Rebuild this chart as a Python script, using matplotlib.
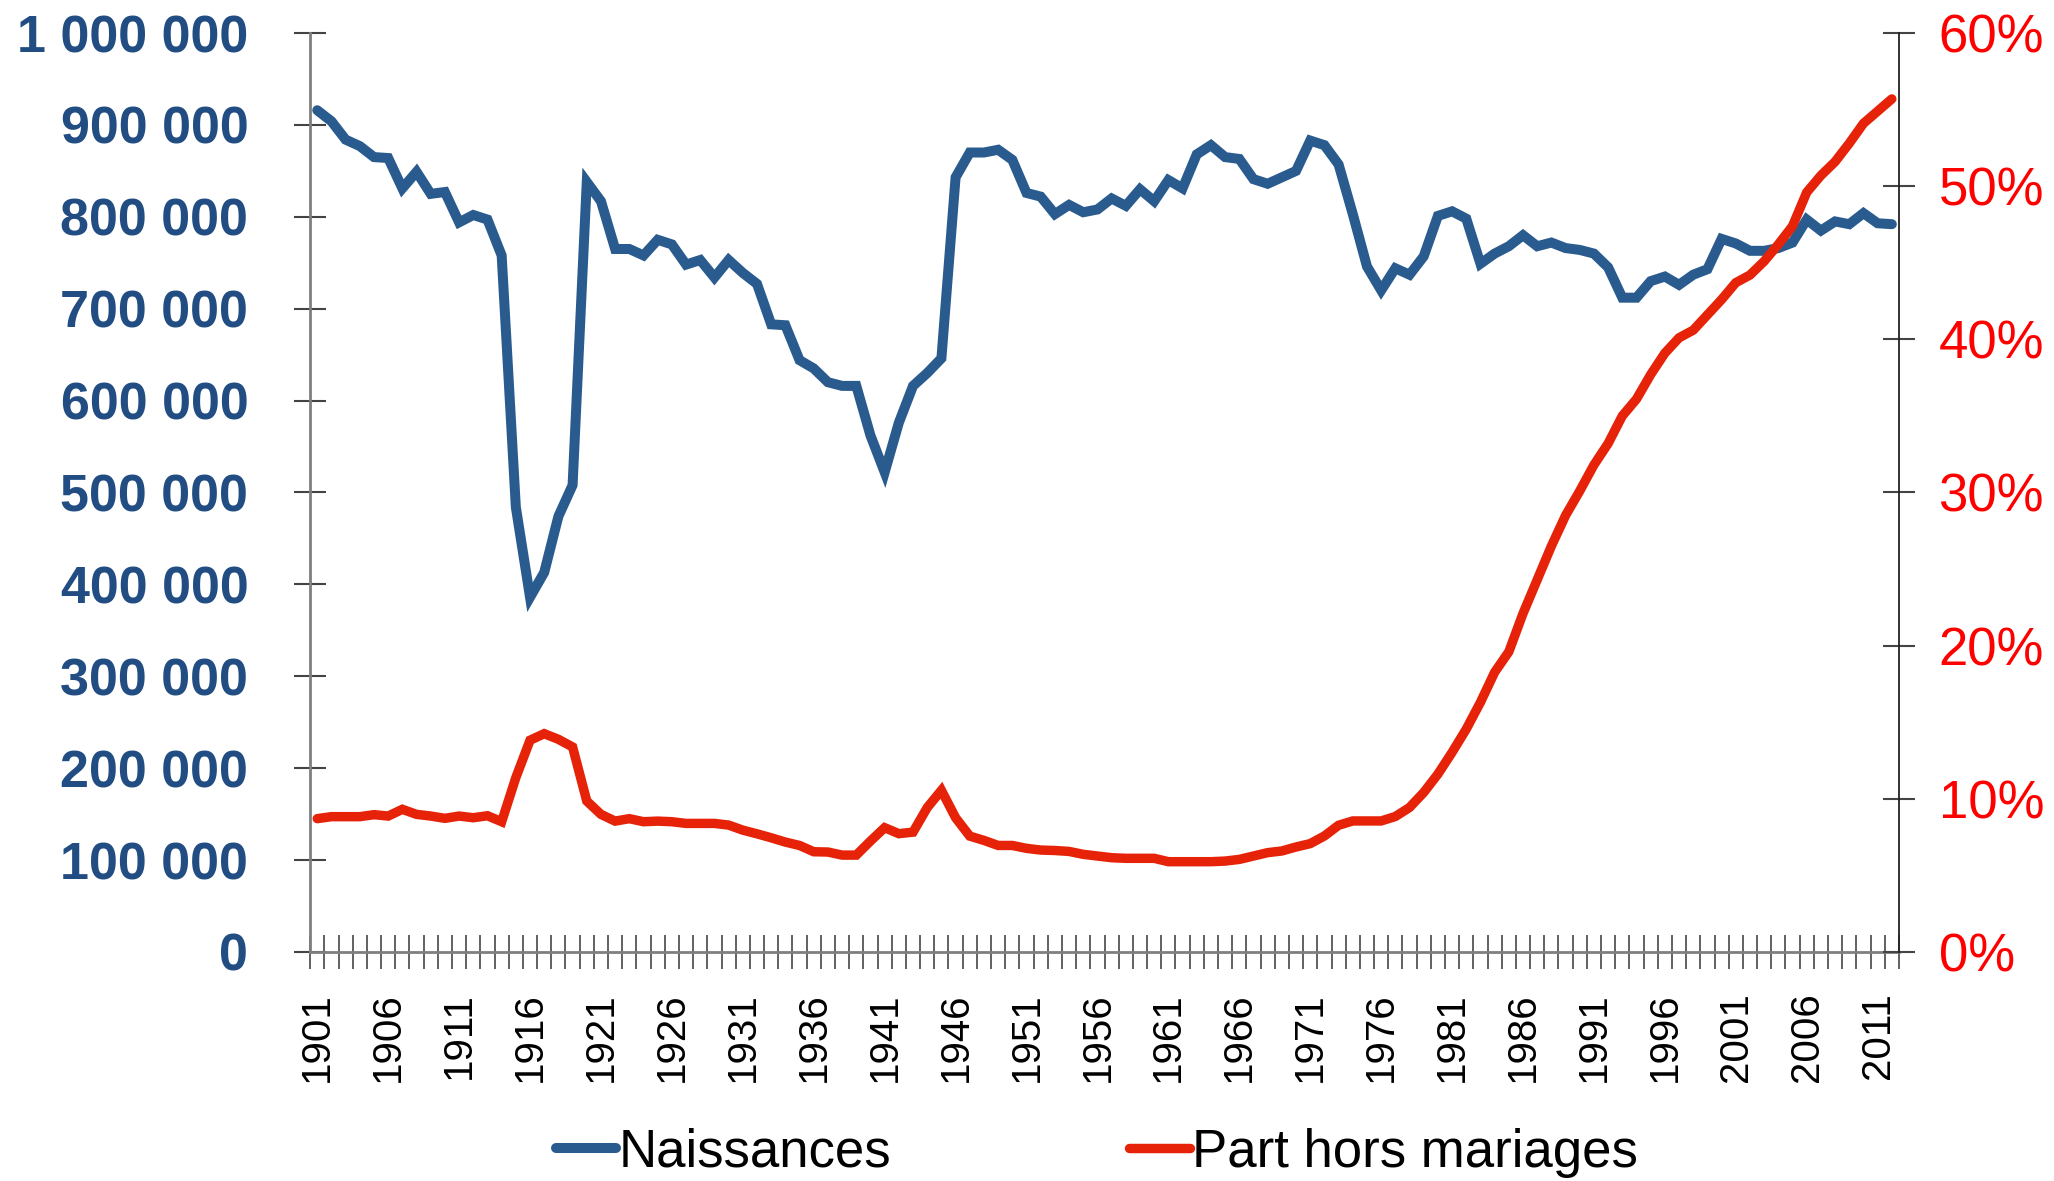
import numpy as np
import matplotlib
matplotlib.use("Agg")
import matplotlib.pyplot as plt
from matplotlib.ticker import FuncFormatter

plt.rcParams["font.family"] = ["Liberation Sans", "DejaVu Sans"]

BLUE, BLUE_TXT, RED, LBL_RED, GREY = "#2A5B8E", "#224D82", "#E62208", "#FF0000", "#7F7F7F"

years = list(range(1901, 2013))

# Naissances (France)
births = [
    916000, 904000, 884000, 877000, 865000, 864000, 831000, 849000, 825000, 827000,
    794000, 802000, 797000, 758000, 484000, 386000, 413000, 474000, 508000, 838000,
    817000, 765000, 765000, 758000, 775000, 770000, 748000, 753000, 734000, 753000,
    739000, 727000, 683000, 682000, 644000, 635000, 620000, 616000, 616000, 562000,
    522000, 576000, 616000, 630000, 646000, 843000, 870000, 870000, 873000, 862000,
    826000, 822000, 803000, 813000, 805000, 808000, 820000, 812000, 830000, 817000,
    840000, 831000, 868000, 878000, 865000, 863000, 841000, 836000, 843000, 850000,
    883000, 878000, 857000, 803000, 746000, 720000, 744000, 737000, 757000, 801000,
    806000, 798000, 749000, 760000, 768000, 780000, 768000, 772000, 766000, 764000,
    760000, 745000, 712000, 712000, 730000, 735000, 726000, 737000, 743000, 776000,
    771000, 763000, 763000, 766000, 772000, 797000, 785000, 795000, 792000, 804000,
    793000, 792000,
]

# Part des naissances hors mariage (%)
hors_mariage = [
    8.70, 8.83, 8.83, 8.83, 8.96, 8.87, 9.31, 8.98, 8.87, 8.72,
    8.87, 8.76, 8.89, 8.50, 11.38, 13.82, 14.25, 13.88, 13.38, 9.85,
    8.98, 8.54, 8.70, 8.50, 8.54, 8.50, 8.39, 8.39, 8.39, 8.28,
    7.95, 7.71, 7.45, 7.17, 6.95, 6.54, 6.52, 6.32, 6.32, 7.24,
    8.11, 7.72, 7.82, 9.42, 10.55, 8.76, 7.56, 7.28, 6.95, 6.95,
    6.76, 6.65, 6.62, 6.56, 6.37, 6.26, 6.15, 6.11, 6.11, 6.11,
    5.89, 5.89, 5.89, 5.89, 5.93, 6.04, 6.26, 6.48, 6.59, 6.85,
    7.07, 7.57, 8.27, 8.55, 8.55, 8.55, 8.84, 9.43, 10.41, 11.61,
    13.03, 14.55, 16.30, 18.26, 19.6, 22.1, 24.3, 26.5, 28.5, 30.1,
    31.8, 33.2, 35.0, 36.1, 37.7, 39.1, 40.1, 40.6, 41.6, 42.6,
    43.7, 44.2, 45.1, 46.2, 47.4, 49.6, 50.7, 51.6, 52.8, 54.1,
    54.9, 55.7,
]

x = np.arange(len(years))

fig = plt.figure(figsize=(20.54, 11.81), dpi=100)
ax = fig.add_axes([0.151, 0.194, 0.7735, 0.778])
ax2 = ax.twinx()

l1, = ax.plot(x, births, color=BLUE, lw=7.2, solid_joinstyle="miter",
              solid_capstyle="round", label="Naissances")
l2, = ax2.plot(x, hors_mariage, color=RED, lw=6.8, solid_joinstyle="miter",
               solid_capstyle="round", label="Part hors mariages")

ax.set_xlim(-0.5, len(years) - 0.5)
ax.set_ylim(0, 1000000)
ax2.set_ylim(0, 60)

# x axis: tick marks between categories, label every 5 years
ax.set_xticks(x[::5])
ax.set_xticklabels([str(y) for y in years[::5]], rotation=90, fontsize=29)
ax.set_xticks(np.arange(-0.5, len(years), 1), minor=True)
ax.tick_params(axis="x", which="major", length=0, pad=29)
ax.tick_params(axis="x", which="minor", direction="inout", length=24, width=1.3, color="#555555")

ax.set_yticks(np.arange(0, 1000001, 100000))
ax.yaxis.set_major_formatter(FuncFormatter(lambda v, p: f"{int(v):,}".replace(",", " ")))
ax.tick_params(axis="y", direction="inout", length=23, width=1.5, color="#444444",
               labelsize=37.5, labelcolor=BLUE_TXT, pad=33)
for t in ax.get_yticklabels():
    t.set_fontweight("bold")

ax2.set_yticks(np.arange(0, 61, 10))
ax2.yaxis.set_major_formatter(FuncFormatter(lambda v, p: f"{int(v)}%"))
ax2.tick_params(axis="y", direction="inout", length=23, width=1.5, color="#444444",
                labelsize=38, labelcolor=LBL_RED, pad=17)

for a in (ax, ax2):
    a.spines["top"].set_visible(False)
    for s in ("left", "right", "bottom"):
        a.spines[s].set_color(GREY)
        a.spines[s].set_linewidth(2)
ax.spines["right"].set_visible(False)
ax2.spines["left"].set_visible(False)
ax2.spines["bottom"].set_visible(False)
ax2.spines["right"].set_color("#222222")
ax2.spines["right"].set_linewidth(1.3)

leg = fig.legend(handles=[l1, l2], loc="center", bbox_to_anchor=(0.534, 0.024), ncol=2,
                 frameon=False, fontsize=38, handlelength=1.15, handletextpad=0.05,
                 columnspacing=4.5, borderpad=0)
for h in leg.get_lines():
    h.set_solid_capstyle("round")

fig.savefig("out.png", dpi=100)
